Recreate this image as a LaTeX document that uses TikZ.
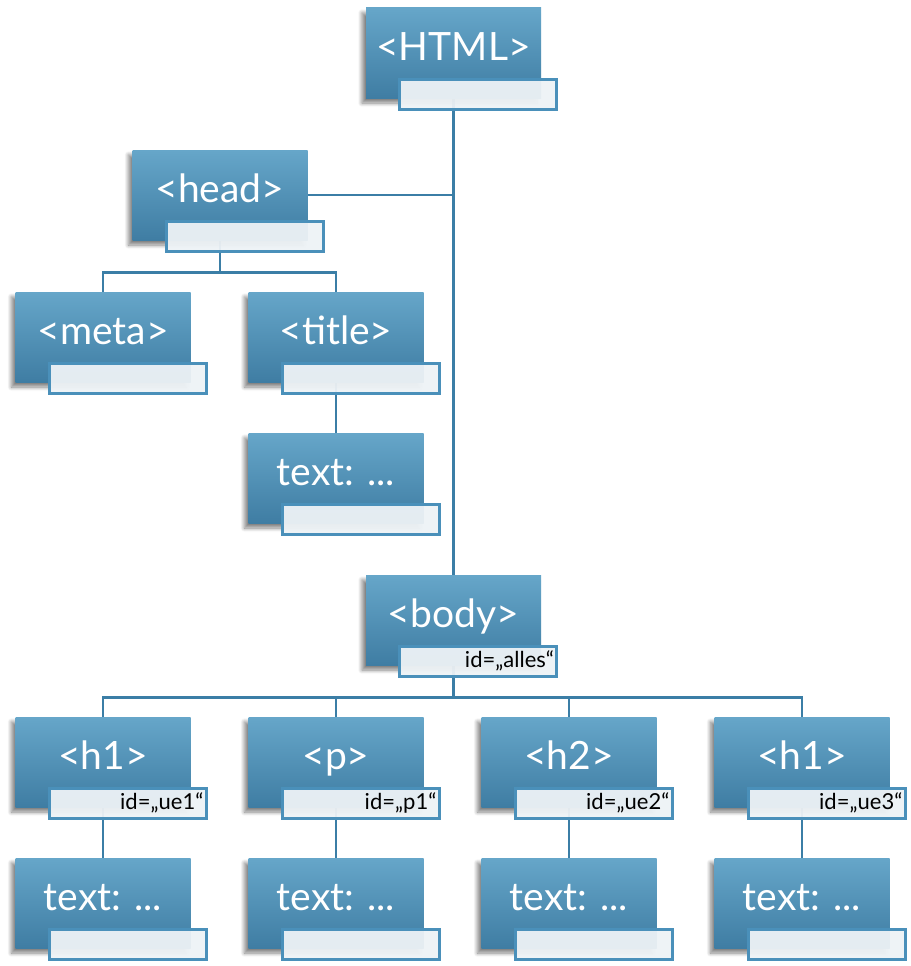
\documentclass[tikz,border=0pt]{standalone}
\usepackage{fontspec}
\setmainfont{Lato}
\usetikzlibrary{shadows.blur,calc,backgrounds}

\definecolor{tagtop}{HTML}{66A6C9}
\definecolor{tagbottom}{HTML}{3F7DA3}
\definecolor{idfill}{HTML}{EDF2F6}
\definecolor{idedge}{HTML}{4A90BA}
\definecolor{wirecol}{HTML}{3B7EA6}

\begin{document}
\begin{tikzpicture}[x=1pt,y=-1pt,
  tag/.style={rectangle,minimum width=175pt,minimum height=90pt,inner sep=0pt,
    top color=tagtop,bottom color=tagbottom,text=white,
    font=\fontsize{39pt}{41pt}\selectfont,text height=28pt,text depth=14pt,
    blur shadow={shadow xshift=-4pt,shadow yshift=-5pt,shadow blur radius=4pt,
      shadow blur steps=8,shadow opacity=50}},
  idbox/.style={rectangle,draw=idedge,line width=2.8pt,fill=idfill,fill opacity=.95,text opacity=1,
    minimum height=30pt,text width=151pt,inner xsep=3pt,inner ysep=0pt,align=right,
    font=\fontsize{22pt}{24pt}\selectfont,text height=15pt,text depth=3pt,anchor=north east},
  wire/.style={draw=wirecol,line width=2.5pt}]
\useasboundingbox (0,0) rectangle (910,966);

% element boxes
\node[tag] (html)  at (453.5,53)  {<HTML>};
\node[idbox] (html-id) at ([xshift=17pt,yshift=20pt]html.south east) {};
\node[tag] (head)  at (220,195)   {<head>};
\node[idbox] (head-id) at ([xshift=17pt,yshift=20pt]head.south east) {};
\node[tag] (meta)  at (103,337)   {<meta>};
\node[idbox] (meta-id) at ([xshift=17pt,yshift=20pt]meta.south east) {};
\node[tag] (title) at (336,337)   {<title>};
\node[idbox] (title-id) at ([xshift=17pt,yshift=20pt]title.south east) {};
\node[tag] (ttext) at (336,478)   {text: ...};
\node[idbox] (ttext-id) at ([xshift=17pt,yshift=20pt]ttext.south east) {};
\node[tag] (body)  at (453.5,620) {<body>};
\node[idbox] (body-id) at ([xshift=17pt,yshift=20pt]body.south east) {id=„alles“};

\node[tag] (ha) at (103,762) {<h1>};
\node[idbox] (ha-id) at ([xshift=17pt,yshift=20pt]ha.south east) {id=„ue1“};
\node[tag] (p)  at (336,762) {<p>};
\node[idbox] (p-id) at ([xshift=17pt,yshift=20pt]p.south east) {id=„p1“};
\node[tag] (hb) at (569,762) {<h2>};
\node[idbox] (hb-id) at ([xshift=17pt,yshift=20pt]hb.south east) {id=„ue2“};
\node[tag] (hc) at (802,762) {<h1>};
\node[idbox] (hc-id) at ([xshift=17pt,yshift=20pt]hc.south east) {id=„ue3“};

\node[tag] (ta) at (103,903) {text: ...};
\node[idbox] (ta-id) at ([xshift=17pt,yshift=20pt]ta.south east) {};
\node[tag] (tb) at (336,903) {text: ...};
\node[idbox] (tb-id) at ([xshift=17pt,yshift=20pt]tb.south east) {};
\node[tag] (tc) at (569,903) {text: ...};
\node[idbox] (tc-id) at ([xshift=17pt,yshift=20pt]tc.south east) {};
\node[tag] (td) at (802,903) {text: ...};
\node[idbox] (td-id) at ([xshift=17pt,yshift=20pt]td.south east) {};

% forks
\coordinate (headfork) at ($(head-id.south)!.5!(meta.north)$);
\coordinate (bodyfork) at ($(body-id.south)!.5!(ha.north)$);

% connectors, behind the boxes
\begin{scope}[on background layer]
\draw[wire] (html.south) -- (body.north);
\draw[wire] (head.east) -- (html.south |- head.east);
\draw[wire] (head.south) -- (head.south |- headfork);
\draw[wire] (meta.north) |- (title.north |- headfork) -- (title.north);
\draw[wire] (title.south) -- (ttext.north);
\draw[wire] (body.south) -- (body.south |- bodyfork);
\draw[wire] (ha.north) |- (hc.north |- bodyfork) -- (hc.north);
\draw[wire] (p.north) -- (p.north |- bodyfork);
\draw[wire] (hb.north) -- (hb.north |- bodyfork);
\draw[wire] (ha.south) -- (ta.north);
\draw[wire] (p.south) -- (tb.north);
\draw[wire] (hb.south) -- (tc.north);
\draw[wire] (hc.south) -- (td.north);
\end{scope}

\end{tikzpicture}
\end{document}
